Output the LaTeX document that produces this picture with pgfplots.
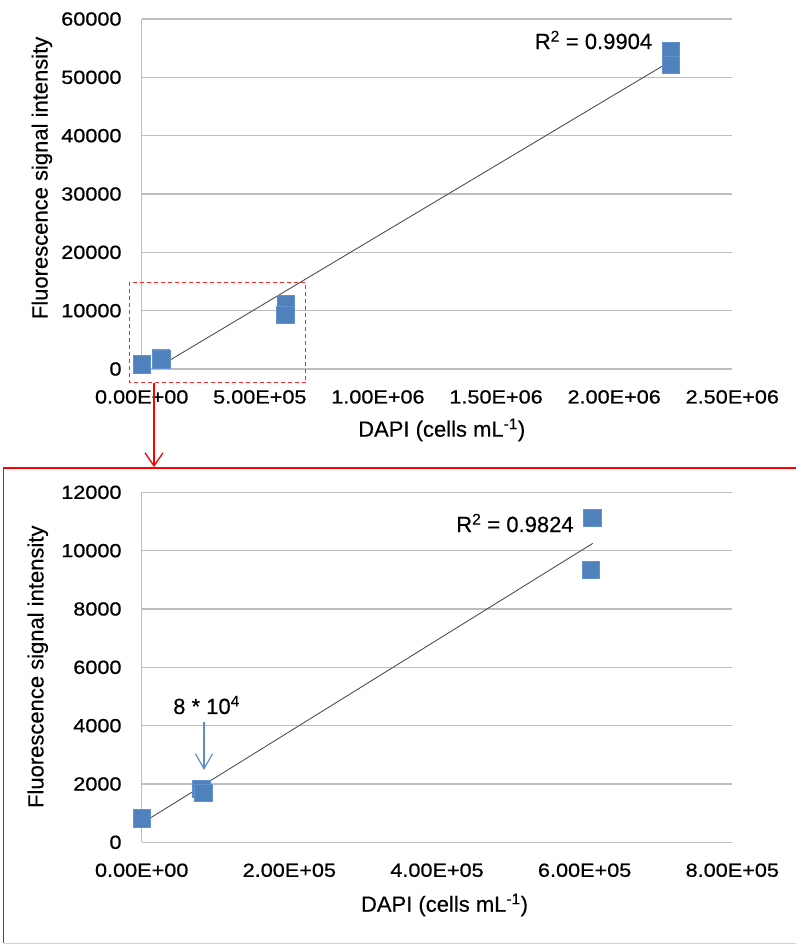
\documentclass[border=0pt]{standalone}
\usepackage{pgfplots}
\pgfplotsset{compat=1.18}
\usepackage{fontspec}
\setmainfont{Liberation Sans}[FakeBold=0.3]
\newfontfamily\tickfont{Liberation Sans}[FakeStretch=1.14, FakeBold=0.7]
\usetikzlibrary{arrows.meta}
\definecolor{ptblue}{RGB}{79,129,189}
\definecolor{ptedge}{RGB}{96,146,205}
\definecolor{gridgray}{RGB}{190,190,190}
\definecolor{trendgray}{RGB}{80,80,80}
\definecolor{arrowblue}{RGB}{90,140,205}
\newcommand{\fs}{\fontsize{22}{26}\selectfont}
\newcommand{\ts}{\tickfont\fontsize{19}{23}\selectfont}
\pgfplotsset{
  myaxis/.style={
    scale only axis,
    width=590.6pt, height=350pt,
    anchor=south west,
    axis x line*=bottom, axis y line*=left,
    axis line style={gridgray, line width=1.2pt, -},
    ymajorgrids, grid style={gridgray, line width=1.2pt},
    major tick length=0pt,
    scaled ticks=false,
    tick label style={font=\ts},
    label style={font=\fs},
    yticklabel style={anchor=east, inner sep=0pt, xshift=-20pt},
    xticklabel style={anchor=north, inner sep=0pt, yshift=-21pt},
  },
  pts/.style={only marks, mark=square*, mark size=8.75pt,
    mark options={fill=ptblue, draw=ptedge, line width=0.5pt}},
  trend/.style={trendgray, line width=0.9pt, no marks},
}
\begin{document}
\begin{tikzpicture}
\path[use as bounding box] (0pt,0pt) rectangle (795pt,-944pt);
% ---------------- top axis ----------------
\begin{axis}[myaxis,
  at={(141.7pt,-369pt)},
  xmin=0, xmax=2500000, ymin=0, ymax=60000,
  xtick={0,500000,1000000,1500000,2000000,2500000},
  xticklabels={0.00E+00,5.00E+05,1.00E+06,1.50E+06,2.00E+06,2.50E+06},
  ytick={0,10000,20000,30000,40000,50000,60000},
  yticklabels={0,10000,20000,30000,40000,50000,60000},
  xlabel={DAPI (cells mL\textsuperscript{-1})},
  ylabel={Fluorescence signal intensity},
  xlabel style={at={(axis description cs:0.508,-0.174)}, anchor=center},
  ylabel style={at={(axis description cs:-0.169,0.546)}, anchor=center},
]
\addplot[trend] coordinates {(56500,0) (2240000,52800)};
\addplot[pts] coordinates {
  (0,820) (80500,1836) (83500,1692)
  (610000,11130) (608000,9340)
  (2240000,54600) (2240000,52200)};
\node[font=\fs] at (axis cs:1912500,56400) {R\textsuperscript{2} = 0.9904};
\end{axis}
% ---------------- bottom axis ----------------
\begin{axis}[myaxis,
  at={(141.7pt,-842.3pt)},
  xmin=0, xmax=800000, ymin=0, ymax=12000,
  xtick={0,200000,400000,600000,800000},
  xticklabels={0.00E+00,2.00E+05,4.00E+05,6.00E+05,8.00E+05},
  ytick={0,2000,4000,6000,8000,10000,12000},
  yticklabels={0,2000,4000,6000,8000,10000,12000},
  xlabel={DAPI (cells mL\textsuperscript{-1})},
  ylabel={Fluorescence signal intensity},
  xlabel style={at={(axis description cs:0.5127,-0.179)}, anchor=center},
  ylabel style={at={(axis description cs:-0.176,0.5017)}, anchor=center},
]
\addplot[trend] coordinates {(0,650) (611000,10250)};
\addplot[pts] coordinates {
  (0,820) (80500,1836) (83500,1692)
  (610000,11130) (608000,9340)};
\node[font=\fs] at (axis cs:505650,10947) {R\textsuperscript{2} = 0.9824};
\node[font=\fs] at (axis cs:87770,4707) {8 * 10\textsuperscript{4}};
\draw[arrowblue, line width=1.2pt, -{Straight Barb[length=15pt, width=17pt]}]
  (axis cs:84390,4135) -- (axis cs:84390,2479);
\end{axis}
% ---------------- annotations ----------------
\draw[red!85!white, line width=1pt, dash pattern=on 4pt off 3pt]
  (129.3pt,-282.3pt) rectangle (305.7pt,-382.7pt);
\draw[red, line width=1.3pt, -{Straight Barb[length=13pt, width=18pt]}]
  (154pt,-383pt) -- (154pt,-467pt);
\draw[red, line width=1.3pt] (797pt,-468pt) -- (3.5pt,-468pt) -- (3.5pt,-943pt);
\draw[red!25!white, line width=1pt] (3.5pt,-943pt) -- (797pt,-943pt);
\end{tikzpicture}
\end{document}
